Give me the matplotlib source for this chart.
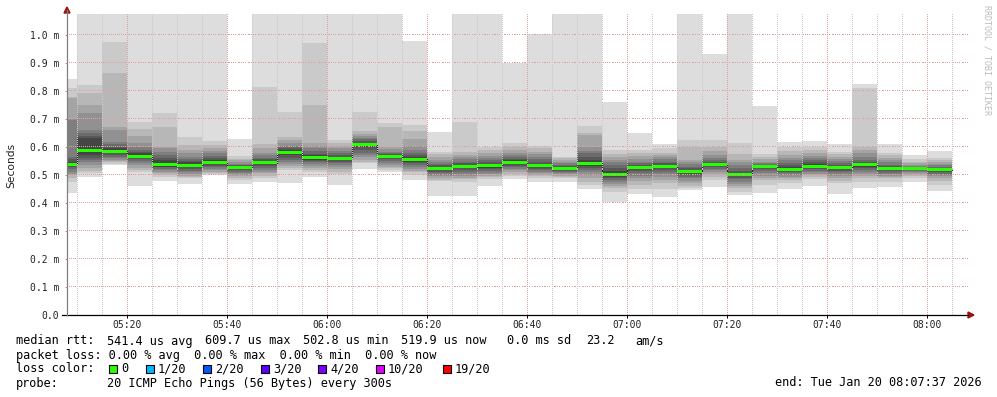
import matplotlib
matplotlib.use("Agg")
import matplotlib.pyplot as plt
from matplotlib.patches import Rectangle, Polygon
from matplotlib.lines import Line2D

# ---------------- data ----------------
bar_end = ["05:10", "05:15", "05:20", "05:25", "05:30", "05:35", "05:40", "05:45",
           "05:50", "05:55", "06:00", "06:05", "06:10", "06:15", "06:20", "06:25",
           "06:30", "06:35", "06:40", "06:45", "06:50", "06:55", "07:00", "07:05",
           "07:10", "07:15", "07:20", "07:25", "07:30", "07:35", "07:40", "07:45",
           "07:50", "07:55", "08:00", "08:05"]

median_ms = [0.539, 0.587, 0.584, 0.567, 0.536, 0.535, 0.543, 0.527, 0.544, 0.581,
             0.562, 0.560, 0.609, 0.567, 0.557, 0.524, 0.531, 0.533, 0.544, 0.533,
             0.524, 0.542, 0.502, 0.526, 0.532, 0.512, 0.538, 0.503, 0.532, 0.520,
             0.532, 0.527, 0.537, 0.524, 0.524, 0.519]

# sorted ping rtts (ms) per 5-minute step: 10 lowest and 10 highest of 20 pings
pings_low = [
    [0.437, 0.476, 0.490, 0.500, 0.505, 0.512, 0.520, 0.527, 0.532, 0.537],
    [0.492, 0.507, 0.515, 0.525, 0.535, 0.545, 0.554, 0.560, 0.570, 0.585],
    [0.536, 0.540, 0.545, 0.550, 0.555, 0.560, 0.566, 0.572, 0.577, 0.581],
    [0.462, 0.510, 0.518, 0.524, 0.535, 0.542, 0.550, 0.556, 0.560, 0.566],
    [0.480, 0.494, 0.500, 0.506, 0.512, 0.518, 0.522, 0.527, 0.530, 0.534],
    [0.468, 0.490, 0.494, 0.498, 0.504, 0.510, 0.516, 0.522, 0.528, 0.532],
    [0.500, 0.504, 0.508, 0.512, 0.518, 0.522, 0.528, 0.533, 0.538, 0.542],
    [0.468, 0.482, 0.490, 0.496, 0.500, 0.506, 0.512, 0.518, 0.522, 0.526],
    [0.476, 0.488, 0.498, 0.506, 0.512, 0.518, 0.525, 0.532, 0.538, 0.542],
    [0.473, 0.518, 0.525, 0.532, 0.540, 0.548, 0.555, 0.562, 0.570, 0.578],
    [0.492, 0.510, 0.518, 0.525, 0.532, 0.538, 0.545, 0.550, 0.555, 0.560],
    [0.464, 0.504, 0.512, 0.520, 0.528, 0.535, 0.542, 0.548, 0.553, 0.558],
    [0.520, 0.542, 0.548, 0.555, 0.565, 0.572, 0.580, 0.590, 0.600, 0.607],
    [0.512, 0.518, 0.524, 0.530, 0.536, 0.542, 0.550, 0.556, 0.562, 0.566],
    [0.482, 0.500, 0.510, 0.516, 0.522, 0.528, 0.535, 0.542, 0.548, 0.554],
    [0.425, 0.478, 0.482, 0.488, 0.495, 0.500, 0.506, 0.512, 0.518, 0.522],
    [0.425, 0.476, 0.484, 0.490, 0.498, 0.505, 0.512, 0.518, 0.524, 0.528],
    [0.462, 0.485, 0.494, 0.497, 0.502, 0.508, 0.514, 0.520, 0.526, 0.530],
    [0.486, 0.498, 0.505, 0.512, 0.517, 0.522, 0.528, 0.533, 0.538, 0.542],
    [0.476, 0.488, 0.495, 0.500, 0.506, 0.512, 0.518, 0.522, 0.527, 0.531],
    [0.476, 0.488, 0.494, 0.498, 0.503, 0.508, 0.512, 0.516, 0.520, 0.523],
    [0.450, 0.465, 0.476, 0.490, 0.500, 0.510, 0.518, 0.525, 0.532, 0.539],
    [0.405, 0.440, 0.455, 0.462, 0.468, 0.475, 0.482, 0.488, 0.494, 0.499],
    [0.432, 0.449, 0.465, 0.480, 0.490, 0.498, 0.506, 0.514, 0.520, 0.524],
    [0.423, 0.450, 0.470, 0.482, 0.492, 0.502, 0.510, 0.518, 0.524, 0.530],
    [0.446, 0.455, 0.462, 0.470, 0.480, 0.488, 0.494, 0.500, 0.506, 0.510],
    [0.458, 0.482, 0.492, 0.502, 0.510, 0.518, 0.522, 0.527, 0.532, 0.536],
    [0.429, 0.440, 0.452, 0.460, 0.468, 0.476, 0.484, 0.490, 0.496, 0.500],
    [0.437, 0.465, 0.482, 0.490, 0.498, 0.506, 0.514, 0.520, 0.526, 0.530],
    [0.450, 0.470, 0.482, 0.488, 0.494, 0.500, 0.506, 0.510, 0.514, 0.518],
    [0.462, 0.485, 0.494, 0.500, 0.505, 0.510, 0.515, 0.520, 0.526, 0.530],
    [0.432, 0.470, 0.480, 0.488, 0.495, 0.503, 0.510, 0.515, 0.520, 0.525],
    [0.452, 0.475, 0.488, 0.498, 0.505, 0.512, 0.518, 0.525, 0.530, 0.535],
    [0.458, 0.476, 0.488, 0.493, 0.498, 0.503, 0.508, 0.514, 0.518, 0.522],
    [0.476, 0.488, 0.495, 0.500, 0.506, 0.510, 0.514, 0.517, 0.520, 0.523],
    [0.444, 0.465, 0.478, 0.488, 0.495, 0.500, 0.505, 0.509, 0.513, 0.517],
]
pings_high = [
    [0.541, 0.548, 0.556, 0.565, 0.695, 0.700, 0.775, 0.779, 0.811, 0.843],
    [0.590, 0.632, 0.640, 0.650, 0.660, 0.722, 0.750, 0.794, 0.821, 1.200],
    [0.586, 0.595, 0.601, 0.610, 0.619, 0.661, 0.672, 0.865, 0.976, 1.200],
    [0.570, 0.578, 0.583, 0.590, 0.601, 0.615, 0.640, 0.664, 0.690, 1.200],
    [0.540, 0.552, 0.562, 0.571, 0.583, 0.595, 0.600, 0.672, 0.723, 1.200],
    [0.538, 0.545, 0.550, 0.558, 0.565, 0.580, 0.590, 0.608, 0.637, 1.200],
    [0.546, 0.553, 0.560, 0.568, 0.578, 0.585, 0.595, 0.607, 0.623, 1.200],
    [0.529, 0.531, 0.534, 0.537, 0.540, 0.545, 0.552, 0.558, 0.568, 0.630],
    [0.546, 0.551, 0.556, 0.562, 0.571, 0.580, 0.595, 0.611, 0.813, 1.200],
    [0.584, 0.590, 0.595, 0.600, 0.605, 0.613, 0.625, 0.637, 0.726, 1.200],
    [0.565, 0.570, 0.576, 0.585, 0.595, 0.604, 0.613, 0.750, 0.973, 1.200],
    [0.562, 0.566, 0.570, 0.577, 0.586, 0.595, 0.603, 0.615, 0.625, 1.200],
    [0.611, 0.615, 0.620, 0.627, 0.632, 0.639, 0.645, 0.657, 0.726, 1.200],
    [0.569, 0.571, 0.574, 0.578, 0.583, 0.592, 0.601, 0.672, 0.687, 1.200],
    [0.558, 0.564, 0.570, 0.578, 0.590, 0.605, 0.627, 0.657, 0.679, 0.980],
    [0.526, 0.530, 0.535, 0.540, 0.548, 0.555, 0.565, 0.575, 0.583, 0.655],
    [0.532, 0.536, 0.542, 0.548, 0.558, 0.565, 0.572, 0.583, 0.690, 1.200],
    [0.535, 0.540, 0.545, 0.552, 0.560, 0.568, 0.577, 0.590, 0.601, 1.200],
    [0.547, 0.552, 0.558, 0.565, 0.572, 0.580, 0.589, 0.600, 0.613, 0.899],
    [0.536, 0.541, 0.548, 0.556, 0.565, 0.575, 0.583, 0.595, 0.604, 1.004],
    [0.526, 0.529, 0.533, 0.537, 0.542, 0.548, 0.554, 0.560, 0.565, 1.200],
    [0.545, 0.555, 0.565, 0.577, 0.585, 0.600, 0.643, 0.650, 0.675, 1.200],
    [0.505, 0.515, 0.525, 0.536, 0.545, 0.555, 0.565, 0.575, 0.589, 0.762],
    [0.528, 0.532, 0.537, 0.542, 0.548, 0.558, 0.568, 0.578, 0.589, 0.651],
    [0.534, 0.537, 0.542, 0.548, 0.556, 0.565, 0.572, 0.580, 0.595, 0.611],
    [0.513, 0.518, 0.524, 0.530, 0.538, 0.545, 0.554, 0.601, 0.625, 1.200],
    [0.540, 0.543, 0.548, 0.555, 0.562, 0.571, 0.585, 0.601, 0.625, 0.932],
    [0.504, 0.508, 0.515, 0.525, 0.535, 0.545, 0.554, 0.575, 0.615, 1.200],
    [0.533, 0.534, 0.536, 0.539, 0.543, 0.548, 0.556, 0.565, 0.575, 0.746],
    [0.523, 0.528, 0.535, 0.543, 0.552, 0.562, 0.571, 0.585, 0.601, 0.619],
    [0.535, 0.540, 0.545, 0.553, 0.560, 0.568, 0.577, 0.590, 0.601, 0.621],
    [0.528, 0.532, 0.537, 0.543, 0.550, 0.557, 0.565, 0.575, 0.582, 0.611],
    [0.539, 0.542, 0.548, 0.554, 0.565, 0.577, 0.590, 0.601, 0.810, 0.825],
    [0.525, 0.528, 0.532, 0.537, 0.545, 0.552, 0.560, 0.571, 0.580, 0.611],
    [0.525, 0.526, 0.528, 0.530, 0.533, 0.537, 0.542, 0.548, 0.556, 0.571],
    [0.520, 0.523, 0.526, 0.530, 0.535, 0.540, 0.545, 0.552, 0.560, 0.586],
]

y_ticks = [0.0, 0.1, 0.2, 0.3, 0.4, 0.5, 0.6, 0.7, 0.8, 0.9, 1.0]
y_labels = ["0.0", "0.1 m", "0.2 m", "0.3 m", "0.4 m", "0.5 m", "0.6 m",
            "0.7 m", "0.8 m", "0.9 m", "1.0 m"]
x_labels = ["05:20", "05:40", "06:00", "06:20", "06:40", "07:00", "07:20", "07:40", "08:00"]

loss_labels = ["0", "1/20", "2/20", "3/20", "4/20", "10/20", "19/20"]
loss_colors = ["#26ff00", "#00b8ff", "#0059ff", "#5e00ff", "#7e00ff", "#dd00ff", "#ff0000"]

# ---------------- figure ----------------
W, H = 997, 397
fig = plt.figure(figsize=(W / 100, H / 100), dpi=100)
fig.patch.set_facecolor("white")

AX_L, AX_R, AX_T, AX_B = 67, 968, 14, 315
ax = fig.add_axes([AX_L / W, 1 - AX_B / H, (AX_R - AX_L) / W, (AX_B - AX_T) / H])


def tmin(s):
    h, m = s.split(":")
    return int(h) * 60 + int(m)


PX_PER_MIN = 5.0
t_0520 = tmin("05:20")
x_left = t_0520 - (127.3 - AX_L) / PX_PER_MIN
x_right = t_0520 + (AX_R - 127.3) / PX_PER_MIN
y_top = 1.075
ax.set_xlim(x_left, x_right)
ax.set_ylim(0, y_top)
px_per_ms = (AX_B - AX_T) / y_top

starts = [tmin(e) - 5 for e in bar_end]

# smoke bands
for i, st in enumerate(starts):
    pts = pings_low[i] + pings_high[i]
    n = len(pts)
    half = n // 2
    for k in range(half):
        lo = pts[k]
        hi = pts[n - 1 - k]
        g = int(190 / half * (half - (k + 1))) + 50
        col = "#%02x%02x%02x" % (g, g, g)
        ax.bar(st, hi - lo, bottom=lo, width=5, align="edge", color=col,
               linewidth=0, zorder=2 + k * 0.01, antialiased=False)

# median: thin dark step line + green band
edges = starts + [starts[-1] + 5]
ax.step(edges, median_ms + [median_ms[-1]], where="post", color="#202020",
        lw=0.8, zorder=3)
mw = y_top / 200.0
ax.bar(starts, [2 * mw] * len(starts), bottom=[m - mw for m in median_ms],
       width=5, align="edge", color=loss_colors[0], linewidth=0, zorder=4,
       antialiased=False)

# dotted grid: single-pixel dots every 2 px
major_col = "#e0a0a0"
minor_col = "#c8c8c8"
xs_dots = [x_left + (p + 0.5) / PX_PER_MIN for p in range(0, AX_R - AX_L, 2)]
ys_dots = [(p + 0.5) / px_per_ms for p in range(0, AX_B - AX_T, 2)]
for yv in y_ticks[1:]:
    ax.plot(xs_dots, [yv] * len(xs_dots), ls="none", marker=",", color=major_col,
            zorder=5, antialiased=False)
t = tmin("05:10")
while t < x_right:
    if t > x_left:
        col = major_col if (t - t_0520) % 20 == 0 else minor_col
        ax.plot([t] * len(ys_dots), ys_dots, ls="none", marker=",", color=col,
                zorder=5, antialiased=False)
    t += 5

# axes
for s in ["top", "right", "bottom", "left"]:
    ax.spines[s].set_visible(False)
ax.set_facecolor("white")

mono = "DejaVu Sans Mono"
ax.set_yticks(y_ticks)
ax.set_yticklabels(y_labels, family=mono, fontsize=7)
ax.set_xticks([tmin(s) for s in x_labels])
ax.set_xticklabels(x_labels, family=mono, fontsize=7)
ax.tick_params(axis="y", length=1.5, width=0.7, color="#a0a0a0", pad=4.0, labelcolor="#222222")
ax.tick_params(axis="x", length=2.2, width=0.7, color="#000000", pad=1.6, labelcolor="#222222")


def fx(x):
    return x / W


def fy(y):
    return 1 - y / H


# axis lines and arrows
fig.add_artist(Line2D([fx(62), fx(968)], [fy(315), fy(315)], color="black", lw=0.9))
fig.add_artist(Line2D([fx(67), fx(67)], [fy(315), fy(10)], color="#808080", lw=0.9))
arrow_col = "#a01010"
fig.add_artist(Polygon([(fx(64), fy(13)), (fx(70), fy(13)), (fx(67), fy(7))],
                       closed=True, color=arrow_col, transform=fig.transFigure))
fig.add_artist(Polygon([(fx(968), fy(312)), (fx(968), fy(318)), (fx(974), fy(315))],
                       closed=True, color=arrow_col, transform=fig.transFigure))

# y label and watermark
fig.text(fx(11), fy(165), "Seconds", rotation=90, ha="center", va="center",
         fontsize=7.7, family="DejaVu Sans", color="#222222")
fig.text(fx(987), fy(60), "RRDTOOL / TOBI OETIKER", rotation=270, ha="center",
         va="center", fontsize=6, family=mono, color="#bbbbbb")

# legend text
fs = 8.55
def ltxt(x, y, s, **kw):
    fig.text(fx(x), fy(y), s, ha="left", va="center", fontsize=fs, family=mono,
             color="black", **kw)

L1, L2, L3, L4 = 341, 355, 369, 383
cw = 7.0
ltxt(16, L1, "median rtt:")
ltxt(16 + 13 * cw, L1, "541.4 us avg")
ltxt(16 + 27 * cw, L1, "609.7 us max")
ltxt(16 + 41 * cw, L1, "502.8 us min")
ltxt(16 + 55 * cw, L1, "519.9 us now")
ltxt(507, L1, "0.0 ms sd")
ltxt(586, L1, "23.2")
ltxt(635, L1, "am/s")

ltxt(16, L2, "packet loss: 0.00 % avg  0.00 % max  0.00 % min  0.00 % now")

ltxt(16, L3, "loss color:")
sq_x = [109, 146, 203, 261, 318, 376, 443]
for x, lab, col in zip(sq_x, loss_labels, loss_colors):
    fig.add_artist(Rectangle((fx(x), fy(L3 + 4)), 8 / W, 8 / H, facecolor=col,
                             edgecolor="black", lw=0.8, transform=fig.transFigure))
    ltxt(x + 12, L3, lab)

ltxt(16, L4, "probe:")
ltxt(16 + 13 * cw, L4, "20 ICMP Echo Pings (56 Bytes) every 300s")
ltxt(775, L4, "end: Tue Jan 20 08:07:37 2026")

fig.savefig("out.png", dpi=100, facecolor="white")
